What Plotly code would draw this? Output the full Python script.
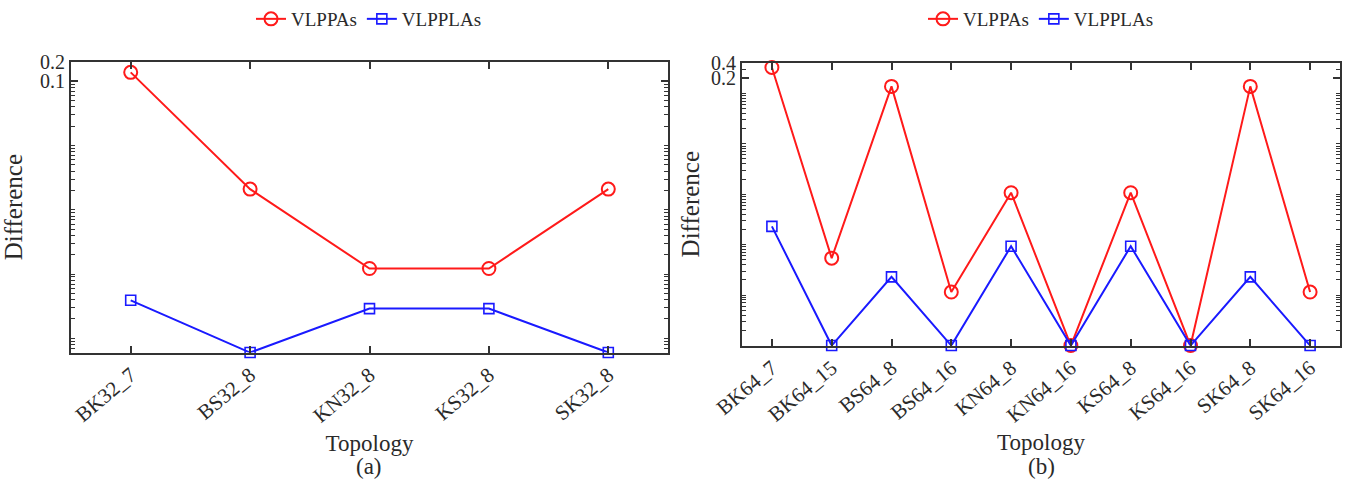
import numpy as np
import plotly.graph_objects as go

# ---- data ----
left_cats = ["BK32_7", "BS32_8", "KN32_8", "KS32_8", "SK32_8"]
left_vlppas = [0.138, 0.0021, 1.22e-4, 1.22e-4, 0.0021]
left_vlpplas = [3.9e-5, 6e-6, 2.9e-5, 2.9e-5, 6e-6]

right_cats = ["BK64_7", "BK64_15", "BS64_8", "BS64_16", "KN64_8",
              "KN64_16", "KS64_8", "KS64_16", "SK64_8", "SK64_16"]
right_vlppas = [0.325, 5.4e-5, 0.137, 1.15e-5, 1.07e-3, 1e-6, 1.07e-3, 1e-6, 0.137, 1.15e-5]
right_vlpplas = [2.3e-4, 1e-6, 2.3e-5, 1e-6, 9.3e-5, 1e-6, 9.3e-5, 1e-6, 2.3e-5, 1e-6]

left_ticks = [0.1, 0.2]
right_ticks = [0.2, 0.4]

RED = "#ff1a1a"
BLUE = "#1a1aff"
FONT = "Liberation Serif"
TXT = "#2a2a2a"
AX = "#333333"

minor_vals = [m * 10.0 ** k for k in range(-7, 1) for m in range(1, 10)]

fig = go.Figure()

def add_series(cats, red, blue, xa, ya, legend):
    fig.add_trace(go.Scatter(
        x=cats, y=red, name="VLPPAs", mode="lines+markers",
        line=dict(color=RED, width=2),
        marker=dict(symbol="circle-open", size=13, color=RED, line=dict(width=2)),
        xaxis=xa, yaxis=ya, legend=legend, cliponaxis=False))
    fig.add_trace(go.Scatter(
        x=cats, y=blue, name="VLPPLAs", mode="lines+markers",
        line=dict(color=BLUE, width=2),
        marker=dict(symbol="square-open", size=10, color=BLUE, line=dict(width=1.6)),
        xaxis=xa, yaxis=ya, legend=legend, cliponaxis=False))

add_series(left_cats, left_vlppas, left_vlpplas, "x", "y", "legend")
add_series(right_cats, right_vlppas, right_vlpplas, "x2", "y2", "legend2")

W, H = 1346, 483

def xax(domain, n):
    return dict(domain=domain, range=[-0.5, n - 0.5], type="category", automargin=False,
                showline=True, linecolor=AX, linewidth=2, mirror="ticks",
                ticks="inside", ticklen=7, tickwidth=1.5, tickcolor=AX,
                tickangle=-40, showgrid=False, zeroline=False,
                tickfont=dict(family=FONT, size=21, color=TXT),
                title=dict(text="Topology", font=dict(family=FONT, size=23, color=TXT), standoff=8))

def yax(domain, rng, ticks, anchor, standoff):
    return dict(domain=domain, type="log", range=rng, anchor=anchor, automargin=False,
                showline=True, linecolor=AX, linewidth=2, mirror="ticks",
                ticks="inside", ticklen=7, tickwidth=1.5, tickcolor=AX,
                tickmode="array", tickvals=ticks, ticktext=[str(t) for t in ticks],
                minor=dict(tickmode="array", tickvals=minor_vals, ticks="inside",
                           ticklen=4, tickwidth=1.2, tickcolor=AX, showgrid=False),
                showgrid=False, zeroline=False,
                tickfont=dict(family=FONT, size=20, color=TXT),
                title=dict(text="Difference", font=dict(family=FONT, size=25, color=TXT),
                           standoff=standoff))

fig.update_layout(
    width=W, height=H,
    margin=dict(l=0, r=0, t=0, b=0),
    paper_bgcolor="white", plot_bgcolor="white",
    xaxis=xax([71 / W, 668 / W], len(left_cats)) | dict(anchor="y"),
    yaxis=yax([1 - 352 / H, 1 - 60 / H], [np.log10(6e-6), -0.695], left_ticks, "x", 12),
    xaxis2=xax([742 / W, 1340 / W], len(right_cats)) | dict(anchor="y2"),
    yaxis2=yax([1 - 345 / H, 1 - 61 / H], [-6.0, -0.395], right_ticks, "x2", 4),
    legend=dict(orientation="h", x=369 / W, y=1 - 17 / H, xanchor="center", yanchor="middle",
                font=dict(family=FONT, size=19, color=TXT), bgcolor="rgba(0,0,0,0)"),
    legend2=dict(orientation="h", x=1041 / W, y=1 - 17 / H, xanchor="center", yanchor="middle",
                 font=dict(family=FONT, size=19, color=TXT), bgcolor="rgba(0,0,0,0)"),
    annotations=[
        dict(text="(a)", x=369 / W, y=1 - 466 / H, xref="paper", yref="paper",
             xanchor="center", yanchor="middle",
             showarrow=False, font=dict(family=FONT, size=23, color=TXT)),
        dict(text="(b)", x=1041 / W, y=1 - 466 / H, xref="paper", yref="paper",
             xanchor="center", yanchor="middle",
             showarrow=False, font=dict(family=FONT, size=23, color=TXT)),
    ],
)

fig.write_html("out.html")
